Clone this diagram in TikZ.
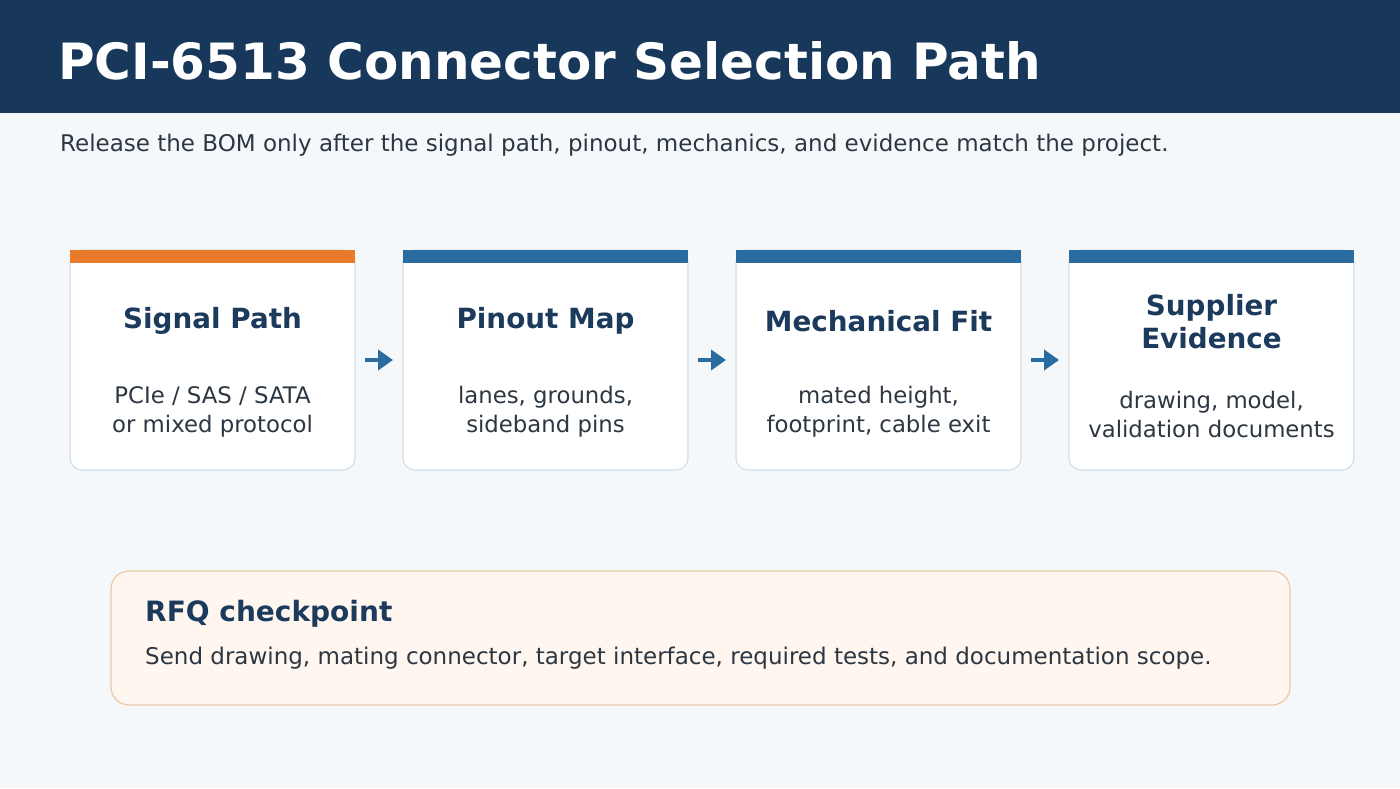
\documentclass[tikz,border=0pt]{standalone}
\usepackage{fontspec}
\setmainfont{DejaVu Sans}
\usepackage{xcolor}
\definecolor{headbg}{RGB}{23,55,91}
\definecolor{pagebg}{RGB}{244,248,251}
\definecolor{navy}{RGB}{27,58,92}
\definecolor{ink}{RGB}{45,55,66}
\definecolor{accent}{RGB}{42,107,160}
\definecolor{accent2}{RGB}{232,122,42}
\definecolor{cardline}{RGB}{213,222,230}
\definecolor{rfqfill}{RGB}{254,246,239}
\definecolor{rfqline}{RGB}{235,201,168}
\usepackage{tikz}
\usetikzlibrary{arrows.meta,positioning}
\tikzset{
  card/.style={draw=cardline,fill=white,line width=1.2pt,rounded corners=12pt,%
    minimum width=285pt,minimum height=220pt,inner sep=0pt,outer sep=0pt},
  ctitle/.style={font=\fontsize{27.8}{33}\selectfont\bfseries,text=navy,align=center},
  cbody/.style={font=\fontsize{22.8}{29}\selectfont,text=ink,align=center},
  flow/.style={-{Triangle[length=15pt,width=20pt]},line width=4pt,draw=accent,%
    shorten <=10pt,shorten >=10pt},
  note/.style={draw=rfqline,fill=rfqfill,line width=1.2pt,rounded corners=18pt,%
    minimum width=1179pt,minimum height=134pt},
}

\begin{document}
\begin{tikzpicture}[x=1pt,y=1pt,node distance=48pt]
\useasboundingbox (0,0) rectangle (1400,788);
\fill[pagebg] (0,0) rectangle (1400,788);
\fill[headbg] (0,675) rectangle (1400,788);
\node[anchor=base west,inner sep=0pt,text=white,font=\fontsize{50}{60}\selectfont\bfseries] (title)
  at (58,708) {PCI-6513 Connector Selection Path};
\node[anchor=base west,inner sep=0pt,text=ink,font=\fontsize{23}{28}\selectfont] (sub)
  at (60,636) {Release the BOM only after the signal path, pinout, mechanics, and evidence match the project.};
% the four stages
\node[card] (c1) at (212.5,428) {};
\node[card,right=of c1] (c2) {};
\node[card,right=of c2] (c3) {};
\node[card,right=of c3] (c4) {};
\fill[accent2] (c1.north west) rectangle ([yshift=-13pt]c1.north east);
\fill[accent] (c2.north west) rectangle ([yshift=-13pt]c2.north east);
\fill[accent] (c3.north west) rectangle ([yshift=-13pt]c3.north east);
\fill[accent] (c4.north west) rectangle ([yshift=-13pt]c4.north east);
\node[ctitle] (t1) at ([yshift=39pt]c1.center) {Signal Path};
\node[ctitle] (t2) at ([yshift=39pt]c2.center) {Pinout Map};
\node[ctitle] (t3) at ([yshift=38.5pt]c3.center) {Mechanical Fit};
\node[ctitle] (t4) at ([yshift=38.5pt]c4.center) {Supplier\\Evidence};
\node[cbody] (b1) at ([yshift=-52pt]c1.center) {PCIe / SAS / SATA\\or mixed protocol};
\node[cbody] (b2) at ([yshift=-52pt]c2.center) {lanes, grounds,\\sideband pins};
\node[cbody] (b3) at ([yshift=-52pt]c3.center) {mated height,\\footprint, cable exit};
\node[cbody] (b4) at ([yshift=-54.5pt]c4.center) {drawing, model,\\validation documents};
\draw[flow] (c1.east) -- (c2.west);
\draw[flow] (c2.east) -- (c3.west);
\draw[flow] (c3.east) -- (c4.west);
% checkpoint box
\node[note] (rfq) at (700.5,150) {};
\node[anchor=base west,inner sep=0pt,text=navy,font=\fontsize{28}{32}\selectfont\bfseries] (rfqtitle)
  at (145,166.5) {RFQ checkpoint};
\node[anchor=base west,inner sep=0pt,text=ink,font=\fontsize{23}{28}\selectfont] (rfqbody)
  at (145,124) {Send drawing, mating connector, target interface, required tests, and documentation scope.};
\end{tikzpicture}
\end{document}
